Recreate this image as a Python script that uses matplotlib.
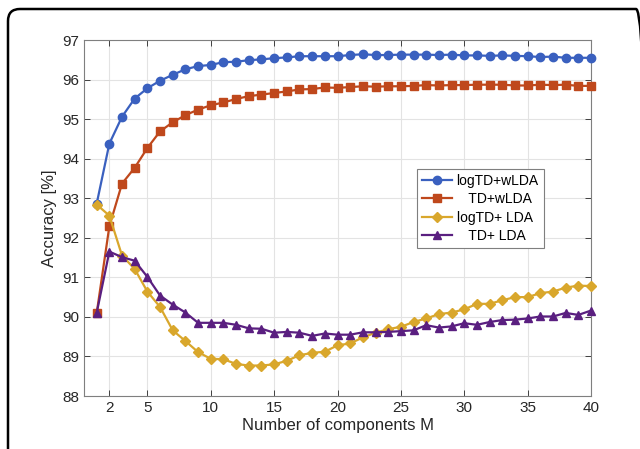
import matplotlib.pyplot as plt
from matplotlib.patches import FancyBboxPatch
import numpy as np

plt.rcParams['font.family'] = ['Liberation Sans', 'DejaVu Sans']

# Number of components
comps = np.arange(1, 41)

log_td_wlda = [92.86, 94.38, 95.06, 95.52, 95.78, 95.97, 96.12, 96.26, 96.34, 96.37,
               96.44, 96.45, 96.49, 96.51, 96.54, 96.56, 96.59, 96.59, 96.59, 96.59,
               96.62, 96.64, 96.62, 96.62, 96.63, 96.63, 96.63, 96.62, 96.63, 96.61,
               96.61, 96.60, 96.61, 96.60, 96.59, 96.57, 96.58, 96.55, 96.55, 96.55]
td_wlda = [90.09, 92.29, 93.37, 93.77, 94.27, 94.69, 94.92, 95.10, 95.24, 95.35,
           95.42, 95.51, 95.58, 95.62, 95.66, 95.70, 95.75, 95.76, 95.80, 95.79,
           95.81, 95.83, 95.82, 95.83, 95.83, 95.84, 95.86, 95.85, 95.86, 95.86,
           95.87, 95.87, 95.87, 95.85, 95.85, 95.87, 95.86, 95.87, 95.84, 95.84]
log_td_lda = [92.84, 92.56, 91.55, 91.21, 90.64, 90.25, 89.66, 89.39, 89.11, 88.94,
              88.93, 88.81, 88.77, 88.77, 88.80, 88.89, 89.03, 89.09, 89.12, 89.28,
              89.33, 89.48, 89.60, 89.69, 89.75, 89.87, 89.96, 90.07, 90.11, 90.19,
              90.33, 90.33, 90.42, 90.50, 90.50, 90.60, 90.64, 90.74, 90.79, 90.78]
td_lda = [90.10, 91.65, 91.51, 91.42, 91.01, 90.54, 90.31, 90.11, 89.85, 89.85,
          89.85, 89.80, 89.71, 89.70, 89.60, 89.62, 89.60, 89.52, 89.58, 89.55,
          89.55, 89.61, 89.61, 89.62, 89.64, 89.66, 89.79, 89.73, 89.76, 89.84,
          89.80, 89.87, 89.92, 89.93, 89.96, 90.01, 90.01, 90.10, 90.05, 90.16]

labels = ['logTD+wLDA', '   TD+wLDA', 'logTD+ LDA', '   TD+ LDA']
colors = ['#3a60bf', '#bf481c', '#d9a72c', '#5a1f80']
markers = ['o', 's', 'D', '^']
msizes = [6, 5.5, 5, 6]
xticks = [2, 5, 10, 15, 20, 25, 30, 35, 40]

fig = plt.figure(figsize=(6.4, 4.49), dpi=100)

# rounded frame in pixel units, running off the right and bottom edges
frame = FancyBboxPatch((8, -60), 640, 500,
                       boxstyle="round,pad=0,rounding_size=12",
                       transform=None, fill=False,
                       edgecolor='black', linewidth=1.8, clip_on=False)
fig.patches.append(frame)

ax = fig.add_axes([84 / 640, 1 - 396 / 449, 507 / 640, 356 / 449])

series = [log_td_wlda, td_wlda, log_td_lda, td_lda]
for ys, lab, col, mk, ms in zip(series, labels, colors, markers, msizes):
    ax.plot(comps, ys, color=col, marker=mk, markersize=ms, linewidth=1.6,
            label=lab, clip_on=False, zorder=3)

ax.set_xlim(0, 40)
ax.set_ylim(88, 97)
ax.set_xticks(xticks)
ax.set_yticks(np.arange(88, 98))
ax.grid(True, color='#e3e3e3', linewidth=0.8)
ax.set_axisbelow(True)
ax.tick_params(direction='in', top=True, right=True, colors='#262626',
               labelsize=11, length=4, width=0.6)
for sp in ax.spines.values():
    sp.set_color('#7f7f7f')
    sp.set_linewidth(0.8)

ax.set_xlabel('Number of components M', fontsize=12, color='#262626', labelpad=2)
ax.set_ylabel('Accuracy [%]', fontsize=12, color='#262626', labelpad=4)

leg = ax.legend(loc='upper left', bbox_to_anchor=((417 - 84) / 507, (396 - 169) / 356),
                fontsize=10, handlelength=2.2, handletextpad=0.3,
                borderpad=0.35, labelspacing=0.32, fancybox=False,
                framealpha=1, borderaxespad=0)
leg.get_frame().set_edgecolor('#7f7f7f')
leg.get_frame().set_linewidth(0.8)

fig.savefig('out.png', dpi=100)
